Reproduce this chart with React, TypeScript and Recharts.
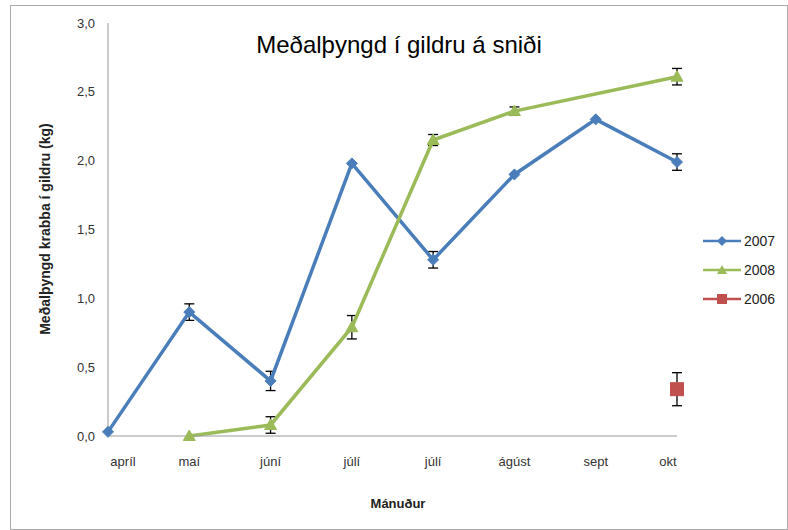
import React from 'react';
import { LineChart, Line, XAxis, YAxis, ErrorBar } from 'recharts';

const months = ['apríl', 'maí', 'júní', 'júlí', 'júlí', 'ágúst', 'sept', 'okt'];
const s2007 = [0.03, 0.9, 0.4, 1.98, 1.28, 1.9, 2.3, 1.99];
const e2007 = [null, 0.06, 0.07, null, 0.06, null, null, 0.06];
const s2008 = [null, 0.0, 0.08, 0.79, 2.15, 2.36, null, 2.61];
const e2008 = [null, null, 0.06, 0.085, 0.04, 0.03, null, 0.06];
const s2006 = [null, null, null, null, null, null, null, 0.34];
const e2006 = [null, null, null, null, null, null, null, 0.12];
const yTicks = [0, 0.5, 1, 1.5, 2, 2.5, 3];
const seriesNames = ['2007', '2008', '2006'];

const BLUE = '#4A7EBB';
const GREEN = '#9BBB59';
const RED = '#C0504D';

const data = months.map((m, i) => ({
  m,
  v2007: s2007[i], e2007: e2007[i],
  v2008: s2008[i], e2008: e2008[i],
  v2006: s2006[i], e2006: e2006[i],
}));

const Diamond = (p: any) => {
  const { cx, cy, key } = p;
  if (cx == null || cy == null || p.value == null) return <g key={key} />;
  const r = 5.5;
  return <path key={key} d={`M${cx},${cy - r}L${cx + r},${cy}L${cx},${cy + r}L${cx - r},${cy}Z`} fill={BLUE} stroke={BLUE} />;
};
const Tri = (p: any) => {
  const { cx, cy, key } = p;
  if (cx == null || cy == null || p.value == null) return <g key={key} />;
  const r = 6;
  return <path key={key} d={`M${cx},${cy - r}L${cx + r},${cy + r * 0.75}L${cx - r},${cy + r * 0.75}Z`} fill={GREEN} stroke={GREEN} />;
};
const Sq = (p: any) => {
  const { cx, cy, key } = p;
  if (cx == null || cy == null || p.value == null) return <g key={key} />;
  const r = 6.5;
  return <rect key={key} x={cx - r} y={cy - r} width={2 * r} height={2 * r} fill={RED} stroke={RED} />;
};

const XTick = (p: any) => {
  const { x, y, payload, index } = p;
  let dx = 0;
  if (index === 0) dx = 15;
  if (index === months.length - 1) dx = -9;
  return (
    <text x={x + dx} y={y} dy="0.71em" textAnchor="middle" fill="#333" fontSize={13} fontFamily="Liberation Sans, Arial, sans-serif">
      {payload.value}
    </text>
  );
};

const legendColors = [BLUE, GREEN, RED];
const legendShapes = ['d', 't', 's'];

export default function App() {
  return (
    <div style={{ position: 'absolute', left: 0, top: 0, width: 788, height: 530, background: '#fff', fontFamily: 'Liberation Sans, Arial, sans-serif' }}>
      <div style={{ position: 'absolute', left: 10, top: 5, width: 776, height: 523, border: '1px solid #aaa' }} />
      <LineChart width={788} height={530} data={data} margin={{ top: 23, right: 111, bottom: 54, left: 48 }} style={{ position: 'absolute', left: 0, top: 0 }}>
        <XAxis dataKey="m" tick={<XTick />} tickLine={false} tickSize={6} tickMargin={15} height={40} stroke="#999" interval={0} />
        <YAxis domain={[0, 3]} ticks={yTicks} width={60} tickLine={false} tickSize={6} tickMargin={7} stroke="#999"
          tick={{ fill: '#333', fontSize: 13, fontFamily: 'Liberation Sans, Arial, sans-serif' }}
          tickFormatter={(v: number) => v.toFixed(1).replace('.', ',')} />
        <Line dataKey="v2007" stroke={BLUE} strokeWidth={3.5} dot={Diamond} activeDot={false} isAnimationActive={false} connectNulls>
          <ErrorBar dataKey="e2007" width={5} strokeWidth={1.3} stroke="#000" direction="y" />
        </Line>
        <Line dataKey="v2008" stroke={GREEN} strokeWidth={3.5} dot={Tri} activeDot={false} isAnimationActive={false} connectNulls>
          <ErrorBar dataKey="e2008" width={5} strokeWidth={1.3} stroke="#000" direction="y" />
        </Line>
        <Line dataKey="v2006" stroke={RED} strokeWidth={3.5} dot={Sq} activeDot={false} isAnimationActive={false} connectNulls>
          <ErrorBar dataKey="e2006" width={5} strokeWidth={1.3} stroke="#000" direction="y" />
        </Line>
      </LineChart>
      <div style={{ position: 'absolute', left: 0, width: 798, top: 31, textAlign: 'center', fontSize: 24, color: '#000' }}>
        Meðalþyngd í gildru á sniði
      </div>
      <div style={{ position: 'absolute', left: 0, width: 796, top: 496, textAlign: 'center', fontSize: 13, fontWeight: 'bold', color: '#222' }}>
        Mánuður
      </div>
      <div style={{ position: 'absolute', left: 45, top: 230, width: 0, height: 0 }}>
        <div style={{ position: 'absolute', left: -150, top: -9, width: 300, textAlign: 'center', transform: 'rotate(-90deg)', fontSize: 14, fontWeight: 'bold', color: '#222', whiteSpace: 'nowrap' }}>
          Meðalþyngd krabba í gildru (kg)
        </div>
      </div>
      {seriesNames.map((n, i) => (
        <div key={n} style={{ position: 'absolute', left: 702, top: 232 + i * 29, height: 18, display: 'flex', alignItems: 'center' }}>
          <svg width={40} height={18}>
            <line x1={1} y1={9} x2={39} y2={9} stroke={legendColors[i]} strokeWidth={2.5} />
            {legendShapes[i] === 'd' && <path d="M20,4L25,9L20,14L15,9Z" fill={legendColors[i]} />}
            {legendShapes[i] === 't' && <path d="M20,4L25,13L15,13Z" fill={legendColors[i]} />}
            {legendShapes[i] === 's' && <rect x={15} y={4} width={10} height={10} fill={legendColors[i]} />}
          </svg>
          <span style={{ fontSize: 14, color: '#222', marginLeft: 2 }}>{n}</span>
        </div>
      ))}
    </div>
  );
}
